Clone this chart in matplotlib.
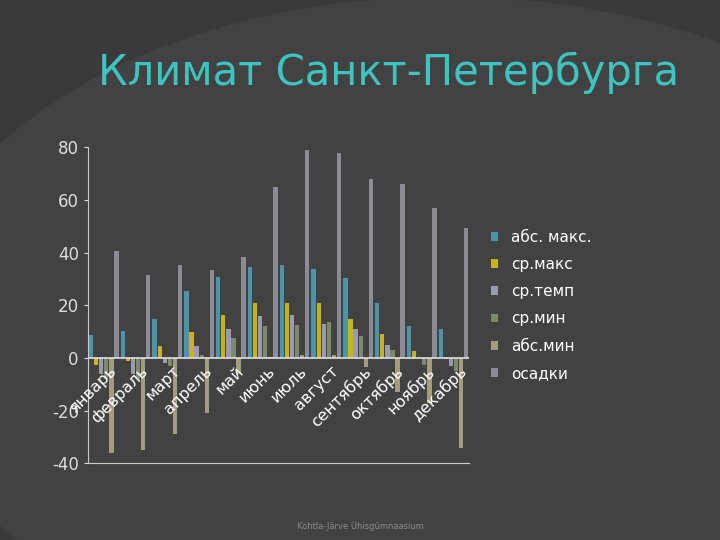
import numpy as np
import matplotlib.pyplot as plt
from matplotlib.patches import Ellipse

plt.rcParams["axes.unicode_minus"] = False

months = ["январь", "февраль", "март", "апрель", "май", "июнь", "июль",
          "август", "сентябрь", "октябрь", "ноябрь", "декабрь"]
abs_max = [8.7, 10.2, 15.0, 25.3, 30.9, 34.6, 35.3, 34.0, 30.4, 21.0, 12.3, 10.9]
avg_max = [-2.5, -1.0, 4.5, 10.0, 16.5, 21.0, 21.0, 21.0, 15.0, 9.0, 2.5, -0.5]
avg_temp = [-6.0, -6.0, -2.0, 4.5, 11.0, 16.0, 16.5, 13.0, 11.0, 5.0, 0.0, -3.0]
avg_min = [-8.0, -8.0, -3.0, 1.0, 7.5, 12.0, 12.5, 13.5, 8.5, 3.0, -2.5, -5.0]
abs_min = [-36.0, -35.0, -29.0, -21.0, -6.0, 0.5, 1.0, 1.0, -3.4, -13.0, -17.0, -34.0]
precip = [40.8, 31.6, 35.4, 33.5, 38.5, 65.0, 79.0, 78.0, 68.0, 66.0, 57.0, 49.5]

series = [("абс. макс.", abs_max, "#4f93a8"),
          ("ср.макс", avg_max, "#c9b21a"),
          ("ср.темп", avg_temp, "#9b9bb0"),
          ("ср.мин", avg_min, "#7d8a6c"),
          ("абс.мин", abs_min, "#a09e7c"),
          ("осадки", precip, "#8c8c94")]

fig = plt.figure(figsize=(7.2, 5.4), dpi=100)
fig.patch.set_facecolor("#3a3a3a")
bg = fig.add_axes([0, 0, 1, 1], zorder=-1)
bg.set_xlim(0, 1); bg.set_ylim(0, 1); bg.axis("off")
bg.add_patch(Ellipse((0.62, 0.38), 1.5, 1.25, color="#424242"))
fig.text(0.54, 0.865, "Климат Санкт-Петербурга", color="#3cc4c0", fontsize=30,
         ha="center", va="center", family="DejaVu Sans")
fig.text(0.5, 0.02, "Kohtla-Järve Ühisgümnaasium", color="#8a8a8a", fontsize=6,
         ha="center")

ax = fig.add_axes([0.122, 0.142, 0.53, 0.585])
ax.set_facecolor("none")
x = np.arange(len(months))
w = 0.16
for i, (name, vals, c) in enumerate(series):
    ax.bar(x + (i - 2.5) * w, vals, w * 0.85, color=c, label=name)
ax.set_xlim(-0.5, len(months) - 0.5)
ax.set_ylim(-40, 80)
ax.set_yticks(range(-40, 81, 20))
ax.tick_params(axis="y", colors="#dddddd", labelsize=12, length=3)
ax.set_xticks([])
ax.axhline(0, color="#e0e0e0", lw=1.2)
for s in ["top", "right"]:
    ax.spines[s].set_visible(False)
ax.spines["left"].set_color("#cccccc")
ax.spines["bottom"].set_color("#cccccc")
for xi, m in zip(x, months):
    ax.text(xi + 0.15, -2, m, rotation=45, ha="right", va="top", color="white",
            fontsize=11.5, rotation_mode="anchor")
ax.legend(loc="center left", bbox_to_anchor=(1.02, 0.5), frameon=False,
          labelcolor="white", fontsize=11, handlelength=0.5, handleheight=0.5,
          labelspacing=0.8)
fig.savefig("out.png", dpi=100, facecolor=fig.get_facecolor())
